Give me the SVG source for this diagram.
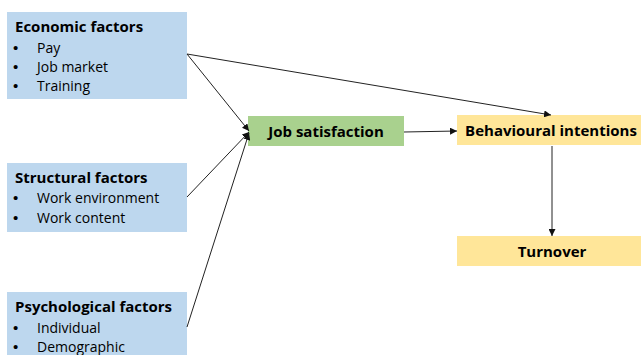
<svg xmlns="http://www.w3.org/2000/svg" width="641" height="355" viewBox="0 0 641 355">
<style>
.blue{fill:#BDD7EE}
.green{fill:#A9D18E}
.yellow{fill:#FFE699}
.t{font-family:"Open Sans","Liberation Sans",sans-serif;font-size:15px;font-weight:bold;fill:#000}
.i{font-family:"Open Sans","Liberation Sans",sans-serif;font-size:14px;fill:#000}
.b{font-family:"Liberation Sans",sans-serif;font-size:15px;fill:#000}
.c{stroke:#222;stroke-width:1;fill:none;marker-end:url(#ah)}
</style>
<defs>
<marker id="ah" viewBox="0 0 10 10" refX="10" refY="5" markerWidth="7" markerHeight="7" markerUnits="userSpaceOnUse" orient="auto">
<path d="M0,0 L10,5 L0,10 z" fill="#111"/>
</marker>
</defs>
<rect width="641" height="355" fill="#fff"/>
<g id="economic">
<rect class="blue" x="7" y="12" width="180" height="87"/>
<text class="t" x="15" y="32">Economic factors</text>
<text class="b" x="13" y="53">•</text><text class="i" x="37" y="53">Pay</text>
<text class="b" x="13" y="72">•</text><text class="i" x="37" y="72">Job market</text>
<text class="b" x="13" y="91">•</text><text class="i" x="37" y="91">Training</text>
</g>
<g id="structural">
<rect class="blue" x="7" y="163" width="180" height="69"/>
<text class="t" x="15" y="183">Structural factors</text>
<text class="b" x="13" y="203">•</text><text class="i" x="37" y="203">Work environment</text>
<text class="b" x="13" y="223">•</text><text class="i" x="37" y="223">Work content</text>
</g>
<g id="psychological">
<rect class="blue" x="7" y="292" width="180" height="63"/>
<text class="t" x="15" y="312">Psychological factors</text>
<text class="b" x="13" y="333">•</text><text class="i" x="37" y="333">Individual</text>
<text class="b" x="13" y="352">•</text><text class="i" x="37" y="352">Demographic</text>
</g>
<g id="job-satisfaction">
<rect class="green" x="248" y="116" width="156" height="30"/>
<text class="t" x="326" y="137" text-anchor="middle">Job satisfaction</text>
</g>
<g id="behavioural-intentions">
<rect class="yellow" x="457" y="115" width="184" height="30"/>
<text class="t" x="551" y="136" text-anchor="middle">Behavioural intentions</text>
</g>
<g id="turnover">
<rect class="yellow" x="457" y="236" width="184" height="30"/>
<text class="t" x="552" y="257" text-anchor="middle">Turnover</text>
</g>
<g id="connectors">
<line class="c" x1="187" y1="54" x2="249" y2="131"/>
<line class="c" x1="187" y1="54" x2="551" y2="115"/>
<line class="c" x1="187" y1="197" x2="249" y2="132"/>
<line class="c" x1="187" y1="327" x2="249" y2="133"/>
<line class="c" x1="404" y1="132" x2="457" y2="131"/>
<line class="c" x1="552" y1="146" x2="552" y2="236"/>
</g>
</svg>
